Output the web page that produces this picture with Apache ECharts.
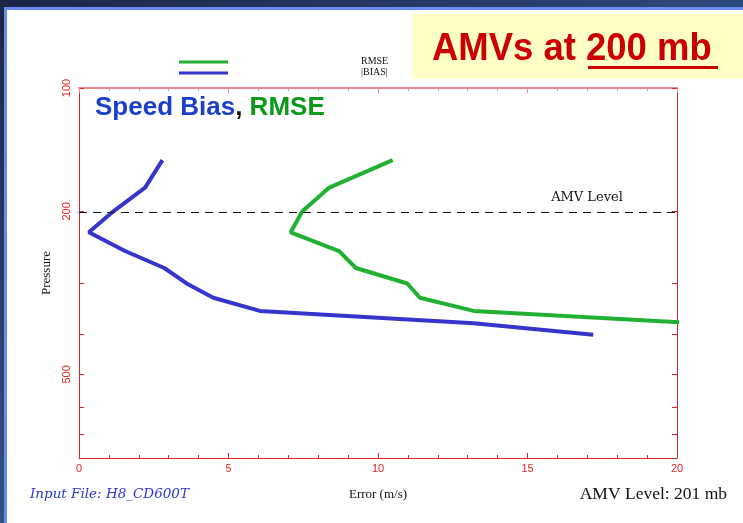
<!DOCTYPE html>
<html>
<head>
<meta charset="utf-8">
<script src="https://cdn.jsdelivr.net/npm/echarts@6/dist/echarts.min.js"></script>
<style>html,body{margin:0;padding:0;background:#fff}#c{width:743px;height:523px}</style>
</head>
<body>
<div id="c"></div>
<script>
// Pressure levels (hPa)
const pressure = [150, 175, 200, 225, 250, 275, 300, 325, 350, 375, 400];
// |BIAS| speed (m/s)
const biasValues = [2.79, 2.21, 1.15, 0.33, 1.54, 2.85, 3.6, 4.49, 6.05, 13.2, 17.2];
// RMSE (m/s)
const rmsePressure = [150, 175, 200, 225, 250, 275, 300, 325, 350, 375];
const rmseValues = [10.49, 8.37, 7.47, 7.08, 8.70, 9.26, 10.98, 11.4, 13.2, 20.6];
// Axis ticks
const xTicks = [0, 5, 10, 15, 20];
const yLabelTicks = [100, 200, 500];
const yMinorTicks = [100, 200, 300, 400, 500, 600, 700, 800];
const amvLevel = 201;

const RED = '#e02424';
const chart = echarts.init(document.getElementById('c'), null, {renderer: 'canvas'});

const biasData = pressure.map((p, i) => [biasValues[i], p]);
const rmseData = rmsePressure.map((p, i) => [rmseValues[i], p]);

const option = {
  backgroundColor: '#ffffff',
  animation: false,
  grid: {left: 79, right: 66, top: 88, bottom: 65, containLabel: false},
  xAxis: [{
    type: 'value', min: 0, max: 20, interval: 5, position: 'bottom',
    name: 'Error (m/s)', nameLocation: 'middle', nameGap: 30,
    nameTextStyle: {fontFamily: 'Liberation Serif', fontSize: 13, color: '#111'},
    axisLine: {show: true, onZero: false, lineStyle: {color: RED, width: 1}},
    axisTick: {show: true, inside: true, length: 5, lineStyle: {color: RED}},
    minorTick: {show: true, splitNumber: 5, length: 3, lineStyle: {color: RED}},
    axisLabel: {color: RED, fontFamily: 'Liberation Sans', fontSize: 11, margin: 5,
      customValues: xTicks},
    splitLine: {show: false}
  }, {
    type: 'value', min: 0, max: 20, interval: 5, position: 'top',
    axisLine: {show: true, onZero: false, lineStyle: {color: '#ee8a8a', width: 2}},
    axisTick: {show: true, inside: true, length: 5, lineStyle: {color: '#ee8a8a'}},
    minorTick: {show: true, splitNumber: 5, length: 3, lineStyle: {color: '#ee8a8a'}},
    axisLabel: {show: false},
    splitLine: {show: false}
  }],
  yAxis: [{
    type: 'log', logBase: 10, min: 100, max: 800, inverse: true, position: 'left',
    name: 'Pressure', nameLocation: 'middle', nameGap: 25, nameRotate: 90,
    nameTextStyle: {fontFamily: 'Liberation Serif', fontSize: 13, color: '#111'},
    axisLine: {show: true, onZero: false, lineStyle: {color: RED, width: 1}},
    axisTick: {show: true, inside: true, length: 5, lineStyle: {color: RED}, customValues: yMinorTicks},
    minorTick: {show: false},
    axisLabel: {color: RED, fontFamily: 'Liberation Sans', fontSize: 11, rotate: 90, margin: 7,
      customValues: yLabelTicks, formatter: v => String(Math.round(v))},
    splitLine: {show: false}
  }, {
    type: 'log', logBase: 10, min: 100, max: 800, inverse: true, position: 'right',
    axisLine: {show: true, onZero: false, lineStyle: {color: RED, width: 1}},
    axisTick: {show: true, inside: true, length: 5, lineStyle: {color: RED}, customValues: yMinorTicks},
    axisLabel: {show: false},
    splitLine: {show: false}
  }],
  series: [{
    name: 'RMSE', type: 'line', data: rmseData, xAxisIndex: 0, yAxisIndex: 0,
    showSymbol: false, symbol: 'none', clip: true,
    lineStyle: {color: '#22b033', width: 4}, z: 3
  }, {
    name: '|BIAS|', type: 'line', data: biasData, xAxisIndex: 0, yAxisIndex: 0,
    showSymbol: false, symbol: 'none', clip: true,
    lineStyle: {color: '#3535cc', width: 4}, z: 4,
    markLine: {
      silent: true, symbol: 'none',
      lineStyle: {color: '#111', width: 1, type: [8, 6]},
      label: {show: false},
      data: [{yAxis: amvLevel}]
    }
  }],
  graphic: [
    {type: 'rect', shape: {x: 0, y: 0, width: 743, height: 7}, style: {fill: new echarts.graphic.LinearGradient(0, 0, 1, 0, [{offset: 0, color: '#1b2646'}, {offset: 1, color: '#2d4a7c'}])}, silent: true},
    {type: 'rect', shape: {x: 0, y: 0, width: 4, height: 523}, style: {fill: new echarts.graphic.LinearGradient(0, 0, 0, 1, [{offset: 0, color: '#1b2646'}, {offset: 1, color: '#34507e'}])}, silent: true},
    {type: 'rect', shape: {x: 4, y: 7, width: 739, height: 3}, style: {fill: '#6a8cf2'}, silent: true},
    {type: 'rect', shape: {x: 4, y: 7, width: 3, height: 516}, style: {fill: '#6a8cf2'}, silent: true},
    {type: 'rect', shape: {x: 412, y: 14, width: 331, height: 65}, style: {fill: '#ffffc6'}, silent: true},
    {type: 'text', x: 432, y: 49, scaleX: 0.935, style: {text: 'AMVs at 200 mb', fill: '#cc0000', font: 'bold 39px "Liberation Sans"', verticalAlign: 'middle', align: 'left'}, silent: true},
    {type: 'rect', shape: {x: 588, y: 66, width: 130, height: 3}, style: {fill: '#cc0000'}, silent: true},
    {type: 'line', shape: {x1: 179, y1: 62, x2: 228, y2: 62}, style: {stroke: '#22b033', lineWidth: 3}, silent: true},
    {type: 'line', shape: {x1: 179, y1: 73, x2: 228, y2: 73}, style: {stroke: '#3535cc', lineWidth: 3}, silent: true},
    {type: 'text', x: 361, y: 61, style: {text: 'RMSE', fill: '#111', font: '10px "Liberation Serif"', verticalAlign: 'middle'}, silent: true},
    {type: 'text', x: 361, y: 72, style: {text: '|BIAS|', fill: '#111', font: '10px "Liberation Serif"', verticalAlign: 'middle'}, silent: true},
    {type: 'text', x: 95, y: 108, style: {
      text: '{b|Speed Bias}{c|, }{g|RMSE}', verticalAlign: 'middle',
      rich: {
        b: {fill: '#1a3fcc', font: 'bold 26px "Liberation Sans"'},
        c: {fill: '#111', font: 'bold 26px "Liberation Sans"'},
        g: {fill: '#0a9a1a', font: 'bold 26px "Liberation Sans"'}
      }}, silent: true},
    {type: 'text', x: 587, y: 198, style: {text: 'AMV Level', fill: '#111', font: '13px "DejaVu Serif"', align: 'center', verticalAlign: 'middle'}, silent: true},
    {type: 'text', x: 30, y: 494, style: {text: 'Input File: H8_CD600T', fill: '#2a35d0', font: 'italic 13.5px "DejaVu Serif"', verticalAlign: 'middle'}, silent: true},
    {type: 'text', x: 727, y: 494, style: {text: 'AMV Level: 201 mb', fill: '#111', font: '17.5px "Liberation Serif"', align: 'right', verticalAlign: 'middle'}, silent: true}
  ]
};
chart.setOption(option);
</script>
</body>
</html>
